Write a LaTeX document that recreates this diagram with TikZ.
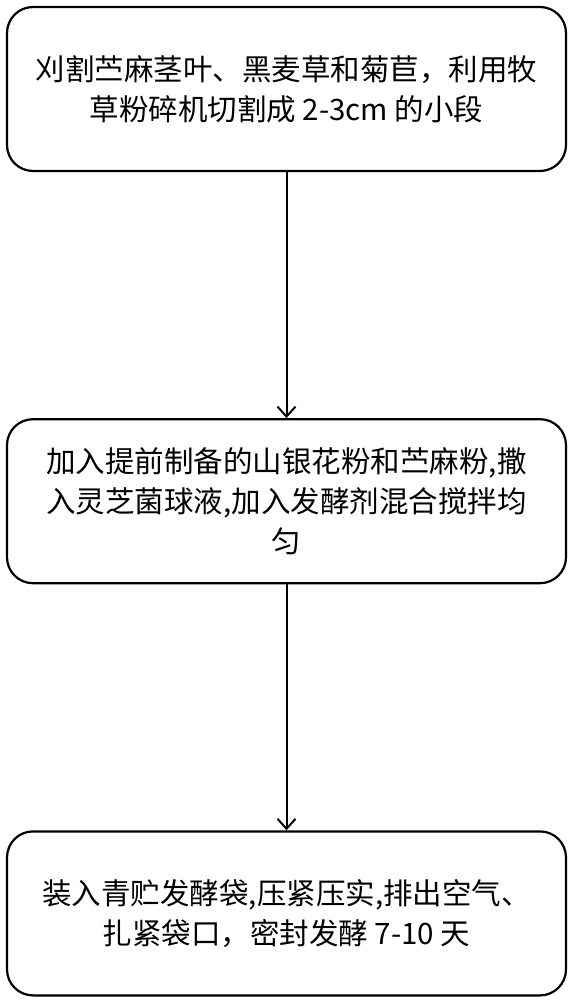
\documentclass[tikz,border=0pt]{standalone}
\usepackage{fontspec}
\usepackage{tikz}
\usetikzlibrary{positioning, arrows.meta}
\newfontfamily\cjk{Noto Sans CJK SC}

\begin{document}
\begin{tikzpicture}[
        passo/.style={draw, line width=2.2pt, rounded corners=26pt, minimum width=559pt,
            minimum height=164pt, align=center, font=\cjk\fontsize{29.5}{40}\selectfont},
        seta/.style={line width=2pt, -{Straight Barb[length=10pt, width=18pt, line width=2pt]}},
        node distance=246pt
    ]
        \useasboundingbox (0,0) rectangle (574pt,-1000pt);

        % Primeira caixa
        \node[passo] (corte) at (286.5pt,-89pt) {刈割苎麻茎叶、黑麦草和菊苣，利用牧\\草粉碎机切割成 2-3cm 的小段};

        % Segunda caixa
        \node[passo, below=of corte] (mistura) {加入提前制备的山银花粉和苎麻粉,撒\\入灵芝菌球液,加入发酵剂混合搅拌均\\匀};

        % Terceira caixa
        \node[passo, below=of mistura] (fermento) {装入青贮发酵袋,压紧压实,排出空气、\\扎紧袋口，密封发酵 7-10 天};

        \draw[seta] (corte) -- (mistura);
        \draw[seta] (mistura) -- (fermento);
    \end{tikzpicture}
\end{document}
